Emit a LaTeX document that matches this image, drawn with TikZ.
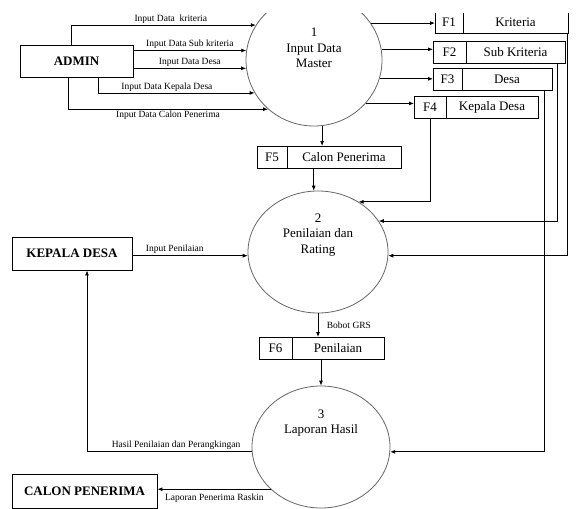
\documentclass[tikz,border=0pt]{standalone}
\usepackage{fontspec}
\setmainfont{Liberation Serif}
\usetikzlibrary{arrows.meta,shapes.geometric,positioning}

\begin{document}
\begin{tikzpicture}[x=1pt, y=-1pt,
  ent/.style={draw, line width=0.9pt, inner sep=0pt, font=\fontsize{13}{15}\selectfont\bfseries},
  proc/.style={draw=black!60, line width=0.8pt, ellipse, inner sep=0pt},
  ptext/.style={align=center, font=\fontsize{13}{15.5}\selectfont},
  sid/.style={draw, line width=0.8pt, anchor=west, minimum height=22, inner sep=0pt, outer sep=0pt, font=\fontsize{13}{15}\selectfont},
  flow/.style={line width=0.8pt, -{Latex[length=5pt,width=4pt]}},
  lbl/.style={font=\fontsize{9.5}{11}\selectfont, inner sep=1.5pt}]
  \useasboundingbox (0,0) rectangle (576,509);
  \clip (0,13) rectangle (576,509);

  % Processes
  \node[proc, minimum width=136, minimum height=132] (p1) at (314,60) {};
  \node[ptext] (p1t) at (314,48) {1\\Input Data\\Master};
  \node[proc, minimum width=140, minimum height=122] (p2) at (318,252) {};
  \node[ptext] (p2t) at (318,235) {2\\Penilaian dan\\Rating};
  \node[proc, minimum width=138, minimum height=122] (p3) at (321,447) {};
  \node[ptext] (p3t) at (321,423) {3\\Laporan Hasil};

  % Entities
  \node[ent, minimum width=113, minimum height=32] (admin) at (76.5,61) {ADMIN};
  \node[ent, minimum width=120, minimum height=33] (kades) at (72,253.5) {KEPALA DESA};
  \node[ent, minimum width=145, minimum height=34] (calon) at (84.5,491) {CALON PENERIMA};

  % Data stores
  \node[sid, minimum width=28] (f1a) at (435,22) {F1};
  \node[sid, minimum width=105, right=0pt of f1a] (f1) {Kriteria};
  \node[sid, minimum width=33] (f2a) at (433,52) {F2};
  \node[sid, minimum width=99, right=0pt of f2a] (f2) {Sub Kriteria};
  \node[sid, minimum width=29] (f3a) at (433,79) {F3};
  \node[sid, minimum width=90, right=0pt of f3a] (f3) {Desa};
  \node[sid, minimum width=32] (f4a) at (414,107) {F4};
  \node[sid, minimum width=92, right=0pt of f4a] (f4) {Kepala Desa};
  \node[sid, minimum width=30] (f5a) at (257,157) {F5};
  \node[sid, minimum width=114, right=0pt of f5a] (f5) {Calon Penerima};
  \node[sid, minimum width=33] (f6a) at (259,348) {F6};
  \node[sid, minimum width=92, right=0pt of f6a] (f6) {Penilaian};

  % Admin to process 1
  \draw[flow] ([xshift=-5.5]admin.north) |- (p1.149)
    node[lbl, above, pos=0.77] {Input Data\ \ kriteria};
  \draw[flow] (admin.east |- p1.172) -- (p1.172)
    node[lbl, above, midway] {Input Data Sub kriteria};
  \draw[flow] (admin.east |- p1.187) -- (p1.187)
    node[lbl, above, midway] {Input Data Desa};
  \draw[flow] ([xshift=21.5]admin.south) |- (p1.209)
    node[lbl, above, pos=0.72] {Input Data Kepala Desa};
  \draw[flow] ([xshift=-8.5]admin.south) |- (p1.227)
    node[lbl, below, pos=0.75] {Input Data Calon Penerima};

  % Process 1 to stores
  \draw[flow] (p1.33) -- (p1.33 -| f1a.west);
  \draw[flow] (p1.9) -- (p1.9 -| f2a.west);
  \draw[flow] (p1.-16) -- (p1.-16 -| f3a.west);
  \draw[flow] (p1.-40) -- (p1.-40 -| f4a.west);
  \draw[flow] (p1.-83) -- (p1.-83 |- f5.north);

  % Stores to process 2 and 3
  \draw[flow] ([xshift=-1]f1.south east) |- (p2.-3);
  \draw[flow] ([xshift=-8]f2.south east) |- (p2.27);
  \draw[flow] ([xshift=-8]f3.south east) |- (p3.-4);
  \draw[flow] (f4a.south) |- (p2.51);
  \draw[flow] (p2.94 |- f5.south) -- (p2.94);

  % Penilaian
  \draw[flow] (kades.east |- p2.183) -- (p2.183)
    node[lbl, above right, pos=0.1] {Input Penilaian};
  \draw[flow] (p2.south) -- (p2.south |- f6.north)
    node[lbl, right=7pt, midway] {Bobot GRS};
  \draw[flow] (p3.north |- f6.south) -- (p3.north);

  % Laporan
  \draw[flow] (p3.184) -| ([xshift=15]kades.south)
    node[lbl, above, pos=0.23] {Hasil Penilaian dan Perangkingan};
  \draw[flow] (p3.220) -- (calon.east |- p3.220)
    node[lbl, below right=3pt and 0pt, pos=0.95] {Laporan Penerima Raskin};
\end{tikzpicture}
\end{document}
